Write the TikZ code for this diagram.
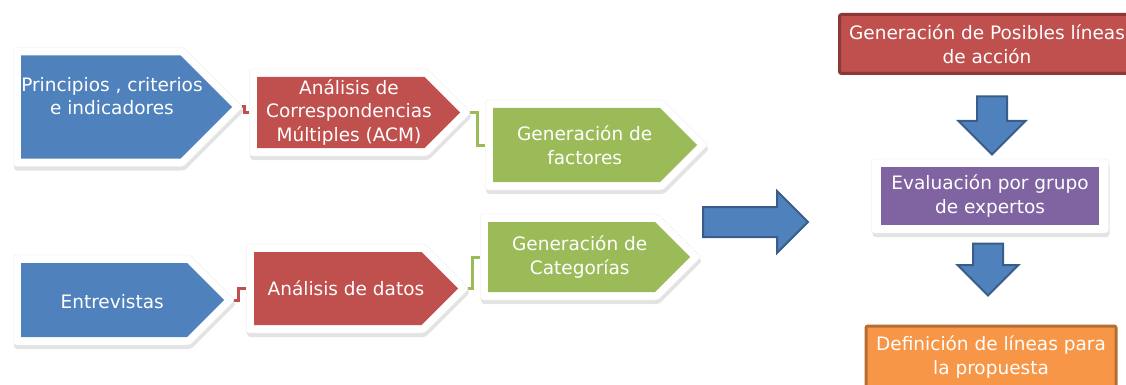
\documentclass[tikz,border=0pt]{standalone}
\usepackage{fontspec}
\setmainfont{DejaVu Sans}
\usepackage{xcolor}
\usetikzlibrary{positioning,calc,backgrounds,shadows}
\usetikzlibrary{shapes.symbols,shapes.arrows}

\definecolor{azul}{HTML}{4F81BD}
\definecolor{azuloscuro}{HTML}{385D8A}
\definecolor{rojo}{HTML}{C0504D}
\definecolor{rojooscuro}{HTML}{8C3836}
\definecolor{verde}{HTML}{9BBB59}
\definecolor{morado}{HTML}{8064A2}
\definecolor{naranja}{HTML}{F79646}
\definecolor{naranjaoscuro}{HTML}{B66D31}

\begin{document}
\begin{tikzpicture}[x=1pt,y=-1pt,font=\fontsize{18.5}{23.5}\selectfont,
  sombra/.style={drop shadow={shadow xshift=1pt,shadow yshift=-4pt,opacity=.22}},
  marco/.style={signal,signal to=east,signal pointer angle=90,anchor=west,inner sep=0pt,fill=white,draw=black!8,rounded corners=3pt,sombra},
  flecha/.style={signal,signal to=east,signal pointer angle=90,anchor=west,inner sep=0pt,fill=#1},
  texto/.style={text=white,align=center,inner sep=0pt,xshift=8pt},
  enlace/.style={draw=#1,line width=3pt},
  bloque/.style={single arrow,single arrow head indent=0pt,fill=azul,draw=azuloscuro,line width=2pt},
  caja/.style={rectangle,fill=#1,text=white,align=center,inner sep=0pt}]
\useasboundingbox (0,0) rectangle (1126,385);

% cadena de arriba
\node[marco,minimum width=230pt,minimum height=119pt] (b1m) at (13,107) {};
\node[flecha=azul,minimum width=211pt,minimum height=103pt,label={[texto,xshift=3pt,yshift=11pt]center:{Principios , criterios\\e indicadores}}] (b1) at (21,107) {};
\node[marco,minimum width=222pt,minimum height=87pt] (r1m) at (249,112.5) {};
\node[flecha=rojo,minimum width=203pt,minimum height=71pt,label={[texto]center:{Análisis de\\Correspondencias\\Múltiples (ACM)}}] (r1) at (257,112.5) {};
\node[marco,minimum width=223pt,minimum height=90pt] (g1m) at (485,145) {};
\node[flecha=verde,minimum width=204pt,minimum height=74pt,label={[texto]center:{Generación de\\factores}}] (g1) at (493,145) {};

% cadena de abajo
\node[marco,minimum width=222pt,minimum height=90pt] (b2m) at (13,300) {};
\node[flecha=azul,minimum width=203pt,minimum height=74pt,label={[texto,yshift=-2pt]center:Entrevistas}] (b2) at (21,300) {};
\node[marco,minimum width=223pt,minimum height=89pt] (r2m) at (246,288.5) {};
\node[flecha=rojo,minimum width=204pt,minimum height=73pt,label={[texto]center:{Análisis de datos}}] (r2) at (254,288.5) {};
\node[marco,minimum width=221pt,minimum height=86pt] (g2m) at (480,257) {};
\node[flecha=verde,minimum width=202pt,minimum height=70pt,label={[texto]center:{Generación de\\Categorías}}] (g2) at (488,257) {};

\begin{scope}[on background layer]
\draw[enlace=rojo] (b1.east) -| ([xshift=-13pt]r1.west) |- (r1.west);
\draw[enlace=verde] (r1.east) -| ([xshift=-16pt]g1.west) |- (g1.west);
\draw[enlace=rojo] (b2.east) -| ([xshift=-16pt]r2.west) |- (r2.west);
\draw[enlace=verde] (r2.east) -| ([xshift=-16pt]g2.west) |- (g2.west);
\end{scope}

\node[bloque,inner xsep=0pt,inner ysep=14pt,minimum height=105pt,single arrow head extend=16pt] (fg) at (748,222) {};

% columna derecha
\node[caja=rojo,draw=rojooscuro,line width=3pt,rounded corners=2pt,minimum width=295pt,minimum height=59pt] (gen) at (987,44) {Generación de Posibles líneas\\de acción};
\node[bloque,shape border rotate=270,inner xsep=14pt,inner ysep=0pt,minimum height=58pt,single arrow head extend=18.5pt] (f1) at (992,118) {};
\node[fill=white,draw=black!8,rounded corners=3pt,minimum width=237pt,minimum height=74pt,sombra] (evm) at (990,196) {};
\node[caja=morado,minimum width=218pt,minimum height=58pt] (ev) at (990,196) {Evaluación por grupo\\de expertos};
\node[bloque,shape border rotate=270,inner xsep=14pt,inner ysep=0pt,minimum height=52pt,single arrow head extend=15.5pt] (f2) at (988,262) {};
\node[caja=naranja,draw=naranjaoscuro,line width=3pt,rounded corners=2pt,minimum width=250pt,minimum height=62pt] (def) at (991,357) {Definición de líneas para\\la propuesta};
\end{tikzpicture}
\end{document}
